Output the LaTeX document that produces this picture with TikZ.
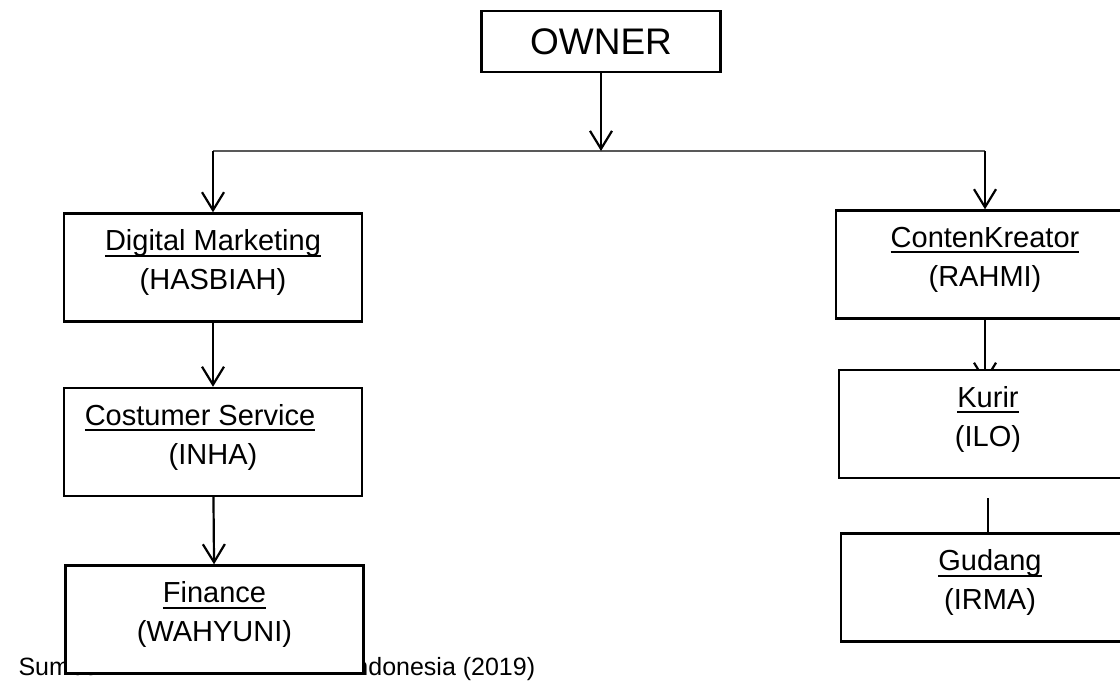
\documentclass[tikz,border=0pt]{standalone}
\usepackage{fontspec}
\setmainfont{Liberation Sans}
\usetikzlibrary{arrows.meta, backgrounds, calc}

\definecolor{cbus}{HTML}{595959}

\newsavebox{\ulbox}
\newcommand{\ulined}[1]{\leavevmode\sbox{\ulbox}{#1}\rlap{\rule[-6pt]{\wd\ulbox}{2pt}}\usebox{\ulbox}}
\newcommand{\staff}[2]{\ulined{#1}\\#2\rule[-16pt]{0pt}{1pt}}

\begin{document}
\begin{tikzpicture}[
    x=1pt, y=-1pt,
    topbox/.style={
        rectangle, draw, fill=white, line width=2.4pt, minimum width=239pt,
        minimum height=61pt, inner sep=0pt, font=\fontsize{37}{44}\selectfont
    },
    unit/.style={
        rectangle, draw, fill=white, line width=2.4pt, minimum width=298pt,
        minimum height=108pt, inner sep=0pt, align=center,
        font=\fontsize{29}{39}\selectfont
    },
    link/.style={line width=2.2pt, -{Straight Barb[length=18pt,width=22pt]}},
    bus/.style={line width=2.2pt, draw=cbus}
]
\useasboundingbox (0,0) rectangle (1120,683);
\clip (0,0) rectangle (1120,683);

\node[topbox] (owner) at (601,41.5) {OWNER};
\coordinate (bus) at (601,151);

% left column
\node[unit] (dm)  at (213,267.5) {\staff{Digital Marketing}{(HASBIAH)}};
\node[unit] (cs)  at (213,442)   {\ulined{Costumer Service}\kern26pt\\(INHA)\rule[-16pt]{0pt}{1pt}};
\node[anchor=base west, font=\fontsize{25}{30}\selectfont] (src) at (15,675)
    {\makebox[329pt][l]{Sumber:}Indonesia (2019)};
\node[unit] (fin) at (214.5,619.5) {\staff{Finance}{(WAHYUNI)}};

% right column
\node[unit] (ck)     at (985,264.5) {\staff{ContenKreator}{(RAHMI)}};
\node[unit] (kurir)  at (988,424)   {\staff{Kurir}{(ILO)}};
\node[unit] (gudang) at (990,587.5) {\staff{Gudang}{(IRMA)}};

\begin{scope}[on background layer]
\fill[white] (0,0) rectangle (1120,683);
\draw[bus] (bus -| dm.north) -- (bus -| ck.north);
\draw[link] (owner.south) -- (bus);
\draw[link] (bus -| dm.north) -- (dm.north);
\draw[link] (bus -| ck.north) -- (ck.north);
\foreach \a/\b in {dm/cs, cs/fin}
  \draw[link] (\a) -- (\b);
\draw[link] (ck.south) -- ($(ck.south |- kurir.north)+(0,14)$);
\draw[line width=2.2pt] ($(kurir.south)+(0,19)$) -- (kurir.south |- gudang.north);
\end{scope}
\end{tikzpicture}
\end{document}
